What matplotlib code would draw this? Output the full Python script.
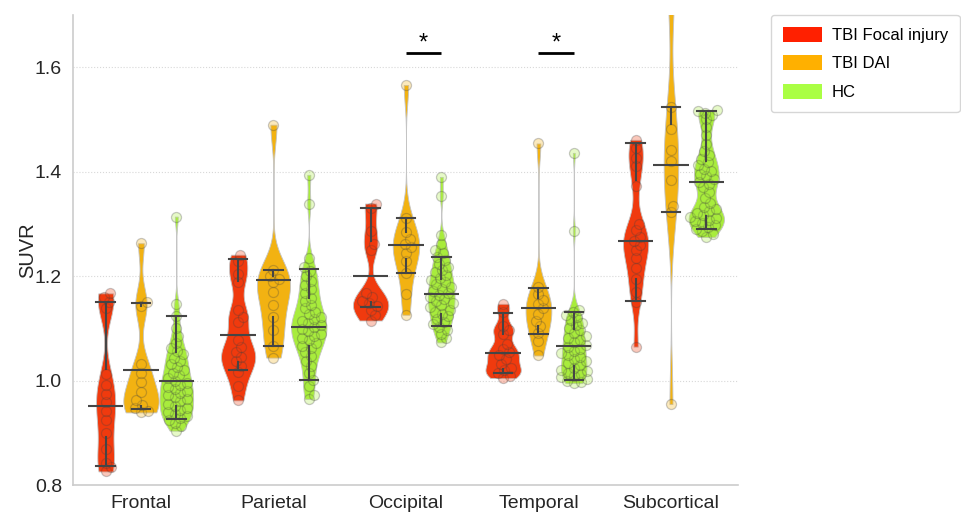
import numpy as np
import matplotlib.pyplot as plt
from matplotlib.patches import Patch

plt.rcParams["font.family"] = ["Liberation Sans", "DejaVu Sans"]

regions = ["Frontal", "Parietal", "Occipital", "Temporal", "Subcortical"]
groups = ["TBI Focal injury", "TBI DAI", "HC"]

violin_colors = ["#F03A0E", "#F2B212", "#A8EC3C"]
legend_colors = ["#FF2000", "#FFB000", "#AAFF44"]

# ── SUVR per subject ────────────────────────────────────────────────────────
focal_frontal = [0.826, 0.834, 0.842, 0.868, 0.900, 0.925, 0.942, 0.958,
                 0.975, 0.992, 1.012, 1.138, 1.150, 1.160, 1.167]
focal_parietal = [0.962, 0.990, 1.016, 1.028, 1.037, 1.046, 1.055, 1.064, 1.078,
                  1.112, 1.121, 1.135, 1.188, 1.204, 1.228, 1.241]
focal_occipital = [1.115, 1.125, 1.135, 1.142, 1.148, 1.153, 1.160, 1.168,
                   1.250, 1.262, 1.287, 1.330, 1.339]
focal_temporal = [1.005, 1.009, 1.014, 1.020, 1.025, 1.032, 1.042, 1.048, 1.054,
                  1.060, 1.070, 1.089, 1.097, 1.105, 1.132, 1.147]
focal_subcortical = [1.065, 1.150, 1.169, 1.195, 1.215, 1.235, 1.250, 1.260, 1.267,
                     1.275, 1.288, 1.300, 1.373, 1.410, 1.427, 1.445, 1.461]

dai_frontal = [0.939, 0.942, 0.947, 0.953, 0.962, 0.978, 0.998, 1.015, 1.032,
               1.142, 1.150, 1.263]
dai_parietal = [1.044, 1.066, 1.096, 1.122, 1.144, 1.170, 1.188, 1.195, 1.200, 1.212, 1.490]
dai_occipital = [1.126, 1.165, 1.205, 1.228, 1.245, 1.255, 1.262, 1.271, 1.285, 1.311, 1.566]
dai_temporal = [1.048, 1.075, 1.092, 1.105, 1.115, 1.128, 1.138, 1.146, 1.155, 1.165,
                1.179, 1.454]
dai_subcortical = [0.955, 1.322, 1.335, 1.384, 1.420, 1.441, 1.482, 1.524, 1.740, 1.760]

hc_frontal = [0.904, 0.913, 0.919, 0.924, 0.928, 0.932, 0.936, 0.940, 0.944, 0.948,
              0.952, 0.956, 0.960, 0.964, 0.968, 0.972, 0.976, 0.980, 0.984, 0.988,
              0.992, 0.996, 1.000, 1.005, 1.010, 1.015, 1.020, 1.026, 1.032, 1.038,
              1.044, 1.050, 1.056, 1.063, 1.072, 1.085, 1.100, 1.123, 1.147, 1.314]
hc_parietal = [0.965, 0.973, 0.990, 1.001, 1.015, 1.028, 1.038, 1.047, 1.055, 1.062,
               1.067, 1.072, 1.077, 1.082, 1.086, 1.090, 1.094, 1.098, 1.102, 1.106,
               1.110, 1.114, 1.118, 1.122, 1.127, 1.132, 1.138, 1.145, 1.152, 1.159,
               1.167, 1.175, 1.183, 1.191, 1.200, 1.210, 1.217, 1.235, 1.338, 1.394]
hc_occipital = [1.073, 1.082, 1.090, 1.097, 1.103, 1.108, 1.113, 1.118, 1.123, 1.128,
                1.132, 1.136, 1.140, 1.144, 1.148, 1.152, 1.156, 1.160, 1.164, 1.168,
                1.172, 1.176, 1.180, 1.184, 1.188, 1.192, 1.197, 1.202, 1.207, 1.212,
                1.218, 1.224, 1.230, 1.237, 1.244, 1.250, 1.262, 1.278, 1.354, 1.390]
hc_temporal = [0.995, 0.997, 1.000, 1.003, 1.006, 1.009, 1.012, 1.015, 1.018, 1.021,
               1.025, 1.029, 1.033, 1.037, 1.041, 1.045, 1.049, 1.053, 1.057, 1.061,
               1.065, 1.069, 1.073, 1.077, 1.081, 1.086, 1.091, 1.096, 1.101, 1.106,
               1.111, 1.116, 1.121, 1.126, 1.131, 1.136, 1.287, 1.436]
hc_subcortical = [1.275, 1.281, 1.286, 1.290, 1.294, 1.298, 1.302, 1.305, 1.308, 1.311,
                  1.314, 1.317, 1.320, 1.324, 1.328, 1.333, 1.340, 1.350, 1.362, 1.370,
                  1.376, 1.381, 1.386, 1.391, 1.396, 1.401, 1.406, 1.412, 1.418, 1.424,
                  1.431, 1.440, 1.453, 1.470, 1.486, 1.500, 1.508, 1.513, 1.516, 1.518]

focal_vals = [focal_frontal, focal_parietal, focal_occipital, focal_temporal, focal_subcortical]
dai_vals = [dai_frontal, dai_parietal, dai_occipital, dai_temporal, dai_subcortical]
hc_vals = [hc_frontal, hc_parietal, hc_occipital, hc_temporal, hc_subcortical]

# ── box statistics as drawn (whisker low, Q1, median, Q3, whisker high) ─────
focal_lo = [0.837, 1.020, 1.140, 1.014, 1.152]
focal_q1 = [0.891, 1.036, 1.150, 1.022, 1.195]
focal_med = [0.951, 1.088, 1.200, 1.052, 1.267]
focal_q3 = [1.023, 1.191, 1.267, 1.089, 1.384]
focal_hi = [1.150, 1.233, 1.330, 1.129, 1.455]

dai_lo = [0.946, 1.066, 1.205, 1.089, 1.322]
dai_q1 = [0.952, 1.122, 1.233, 1.105, 1.322]
dai_med = [1.020, 1.193, 1.260, 1.138, 1.413]
dai_q3 = [1.143, 1.201, 1.285, 1.159, 1.491]
dai_hi = [1.148, 1.211, 1.311, 1.177, 1.524]

hc_lo = [0.927, 1.001, 1.105, 1.001, 1.290]
hc_q1 = [0.952, 1.067, 1.128, 1.027, 1.316]
hc_med = [0.999, 1.102, 1.166, 1.066, 1.380]
hc_q3 = [1.054, 1.159, 1.195, 1.099, 1.421]
hc_hi = [1.123, 1.214, 1.237, 1.132, 1.516]

# significant DAI vs HC comparisons (region index)
sig_regions = [2, 3]

all_vals = [focal_vals, dai_vals, hc_vals]
all_stats = [
    (focal_lo, focal_q1, focal_med, focal_q3, focal_hi),
    (dai_lo, dai_q1, dai_med, dai_q3, dai_hi),
    (hc_lo, hc_q1, hc_med, hc_q3, hc_hi),
]

BW_ADJUST = 0.5
DODGE = 0.8 / 3
XLIM = (-0.513, 4.506)
YLIM = (0.8, 1.7)
AX_W, AX_H = 665, 470          # axes size in pixels
PX_X = AX_W / (XLIM[1] - XLIM[0])
PX_Y = AX_H / (YLIM[1] - YLIM[0])


def kde(vals):
    v = np.asarray(vals, dtype=float)
    h = v.std(ddof=1) * len(v) ** (-0.2) * BW_ADJUST
    grid = np.linspace(v.min(), v.max(), 300)
    z = (grid[:, None] - v[None, :]) / h
    dens = np.exp(-0.5 * z ** 2).sum(axis=1) / (len(v) * h * np.sqrt(2 * np.pi))
    return grid, dens


def swarm(vals, d=7.0):
    """Beeswarm offsets (in data units) so markers only slightly overlap."""
    ys = np.asarray(vals, dtype=float) * PX_Y
    order = np.argsort(ys)
    placed = []
    offs = np.zeros(len(ys))
    for i in order:
        y = ys[i]
        near = [(px, y - py) for px, py in placed if abs(y - py) < d]
        cands = [0.0]
        for px, dy in near:
            dx = np.sqrt(d * d - dy * dy)
            cands += [px + dx, px - dx]
        cands.sort(key=abs)
        for c in cands:
            if all((c - px) ** 2 + dy ** 2 >= d * d - 1e-6 for px, dy in near):
                break
        placed.append((c, y))
        offs[i] = c / PX_X
    return offs


kdes = [[kde(v) for v in g] for g in all_vals]
# area scaling computed within each region (hue-level scaling)
region_max = [max(kdes[gi][ri][1].max() for gi in range(len(groups)))
              for ri in range(len(regions))]

fig = plt.figure(figsize=(9.61, 5.14), dpi=100)
ax = fig.add_axes([73 / 961, 1 - 485 / 514, AX_W / 961, AX_H / 514])

x = np.arange(len(regions))

for gi in range(len(groups)):
    pos = x + (gi - 1) * DODGE
    for ri in range(len(regions)):
        grid, dens = kdes[gi][ri]
        hw = dens / region_max[ri] * DODGE / 2
        ax.fill_betweenx(grid, pos[ri] - hw, pos[ri] + hw,
                         facecolor=violin_colors[gi], edgecolor="#c4c4c4",
                         linewidth=0.6, zorder=2)
        vals = np.asarray(all_vals[gi][ri])
        ax.scatter(pos[ri] + swarm(vals), vals, s=52,
                   facecolor=violin_colors[gi], edgecolors="#404040",
                   linewidths=0.9, alpha=0.28, zorder=3)

    lo, q1, med, q3, hi = all_stats[gi]
    stats = [dict(whislo=lo[i], q1=q1[i], med=med[i], q3=q3[i], whishi=hi[i], fliers=[])
             for i in range(len(regions))]
    line = dict(color="#454545", linewidth=1.5)
    ax.bxp(stats, positions=pos, widths=DODGE, capwidths=0.14,
           showbox=False, showfliers=False, medianprops=line,
           whiskerprops=line, capprops=line, manage_ticks=False, zorder=4)

for ri in sig_regions:
    x0, x1 = x[ri], x[ri] + DODGE
    ax.plot([x0, x1], [1.628, 1.628], color="black", linewidth=2, zorder=5,
            solid_capstyle="butt")
    ax.text((x0 + x1) / 2, 1.624, "*", ha="center", va="bottom", fontsize=17,
            color="black")

ax.set_xlim(*XLIM)
ax.set_ylim(*YLIM)
ax.set_xticks(x)
ax.set_xticklabels(regions)
ax.set_yticks([0.8, 1.0, 1.2, 1.4, 1.6])
ax.tick_params(axis="both", length=0, labelsize=14, colors="#262626")
ax.tick_params(axis="y", pad=8)
ax.tick_params(axis="x", pad=7)
ax.set_ylabel("SUVR", fontsize=14.5, color="#262626", labelpad=-2)
ax.grid(axis="y", color="#d8d8d8", linestyle=":", linewidth=0.8, zorder=0)
ax.set_axisbelow(True)
for side in ["top", "right"]:
    ax.spines[side].set_visible(False)
for side in ["left", "bottom"]:
    ax.spines[side].set_color("#cccccc")
    ax.spines[side].set_linewidth(1.2)

handles = [Patch(facecolor=c, edgecolor="none", label=g)
           for c, g in zip(legend_colors, groups)]
fig.legend(handles=handles, loc="upper left", bbox_to_anchor=(771 / 961, 1 - 15 / 514),
           borderaxespad=0, fontsize=12, frameon=True, handlelength=2.35,
           handleheight=1.0, handletextpad=0.6, labelspacing=0.75, borderpad=0.7,
           edgecolor="#cccccc", fancybox=True)

fig.savefig("out.png", dpi=100)
